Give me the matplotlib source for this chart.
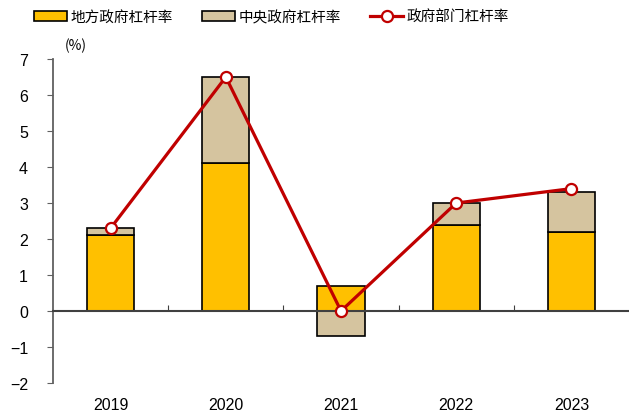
import matplotlib.pyplot as plt
from matplotlib.transforms import blended_transform_factory

plt.rcParams['font.family'] = ['Noto Sans CJK SC', 'Liberation Sans', 'DejaVu Sans']

years = ['2019', '2020', '2021', '2022', '2023']
local_gov = [2.1, 4.1, 0.7, 2.4, 2.2]
central_gov = [0.2, 2.4, -0.7, 0.6, 1.1]
gov_total = [2.3, 6.5, 0.0, 3.0, 3.4]

fig = plt.figure(figsize=(6.29, 4.14), dpi=100)
ax = fig.add_axes([0.0843, 0.0725, 0.9157, 0.7825])

x = range(len(years))
w = 0.41
# 中央部分为负时从0往下画，为正时叠在地方之上
central_bottom = [l if c >= 0 else 0 for l, c in zip(local_gov, central_gov)]

b1 = ax.bar(x, local_gov, w, color='#FFC000', edgecolor='black', linewidth=1.2,
            label='地方政府杠杆率', zorder=2)
b2 = ax.bar(x, central_gov, w, bottom=central_bottom, color='#D5C49F',
            edgecolor='black', linewidth=1.2, label='中央政府杠杆率', zorder=2)
ln, = ax.plot(x, gov_total, color='#C00000', linewidth=2.3, marker='o', markersize=8,
              markerfacecolor='white', markeredgecolor='#C00000', markeredgewidth=1.6,
              label='政府部门杠杆率', zorder=3)

ax.set_xlim(-0.5, 4.5)
ax.set_ylim(-2, 7)
ax.set_yticks(range(-2, 8))
ax.set_yticklabels([str(v).replace('-', '\u2212') for v in range(-2, 8)],
                   fontfamily='Liberation Sans', fontsize=11.5)

for s in ['top', 'right']:
    ax.spines[s].set_visible(False)
ax.spines['left'].set_color('#606060')
ax.spines['left'].set_linewidth(1.3)
ax.spines['bottom'].set_position(('data', 0))
ax.spines['bottom'].set_color('#404040')
ax.spines['bottom'].set_linewidth(1.5)
ax.spines['bottom'].set_zorder(2.5)

ax.tick_params(axis='y', direction='out', length=4, color='#606060', pad=14)
ax.set_xticks([0.5, 1.5, 2.5, 3.5])
ax.set_xticklabels([])
ax.tick_params(axis='x', direction='in', length=4, color='#404040')

trans = blended_transform_factory(ax.transData, ax.transAxes)
for i, y in enumerate(years):
    ax.text(i, -0.065, y, transform=trans, ha='center', va='center',
            fontfamily='Liberation Sans', fontsize=11.5)

ax.text(0.02, 1.045, '(%)', transform=ax.transAxes, ha='left', va='center',
        fontsize=10)

ax.legend([b1, b2, ln], ['地方政府杠杆率', '中央政府杠杆率', '政府部门杠杆率'],
          loc='center', bbox_to_anchor=(0.38, 1.13), ncol=3, frameon=False,
          fontsize=10.5, handlelength=2.2, handleheight=0.6, columnspacing=2.0,
          handletextpad=0.3)

fig.savefig('out.png', dpi=100)
